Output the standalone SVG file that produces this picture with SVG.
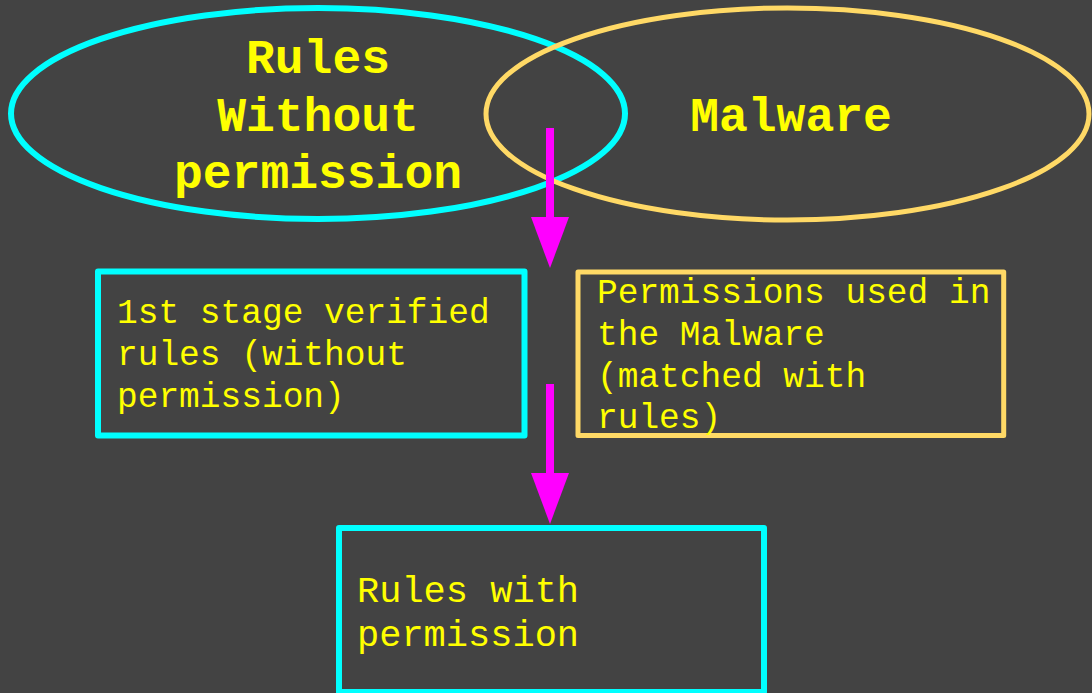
<svg xmlns="http://www.w3.org/2000/svg" width="1092" height="693" viewBox="0 0 1092 693">
  <style>
    .bold { font-family: "Liberation Mono", "Courier New", monospace; font-weight: bold; font-size: 48px; fill: #FFFF00; text-anchor: middle; }
    .body { font-family: "Liberation Mono", "Courier New", monospace; font-size: 34.5px; fill: #FFFF00; }
    .big { font-size: 37px; }
    .cyan { fill: none; stroke: #00FFFF; stroke-width: 6; stroke-linejoin: round; }
    .gold { fill: none; stroke: #FFD966; stroke-width: 5; stroke-linejoin: round; }
    .shaft { stroke: #FF00FF; stroke-width: 8; fill: none; }
    .head { fill: #FF00FF; }
  </style>
  <rect x="0" y="0" width="1092" height="693" fill="#434343"/>
  <g id="node-rules-without">
    <ellipse class="cyan" cx="318" cy="113.5" rx="307" ry="105.5" stroke-width="5"/>
    <text class="bold" x="318" y="73">Rules</text>
    <text class="bold" x="318" y="131">Without</text>
    <text class="bold" x="318" y="188">permission</text>
  </g>
  <g id="node-malware">
    <ellipse class="gold" cx="787.5" cy="114" rx="301.5" ry="106" stroke-width="4.5"/>
    <text class="bold" x="791" y="131">Malware</text>
  </g>
  <g id="node-first-stage">
    <rect class="cyan" x="98" y="271.5" width="426.5" height="164"/>
    <text class="body" x="117" y="323">1st stage verified</text>
    <text class="body" x="117" y="365">rules (without</text>
    <text class="body" x="117" y="407">permission)</text>
  </g>
  <g id="node-permissions">
    <rect class="gold" x="578" y="272" width="425.7" height="163.5" stroke-width="5.5"/>
    <text class="body" x="597" y="303">Permissions used in</text>
    <text class="body" x="597" y="345">the Malware</text>
    <text class="body" x="597" y="387">(matched with</text>
    <text class="body" x="597" y="428">rules)</text>
  </g>
  <g id="node-rules-with">
    <rect class="cyan" x="339" y="528" width="425" height="164"/>
    <text class="body big" x="357" y="602">Rules with</text>
    <text class="body big" x="357" y="646">permission</text>
  </g>
  <g id="connectors">
    <line class="shaft" x1="550" y1="128" x2="550" y2="219"/>
    <polygon class="head" points="531,217 569,217 550,268"/>
    <line class="shaft" x1="550" y1="384" x2="550" y2="475"/>
    <polygon class="head" points="531,473 569,473 550,524"/>
  </g>
</svg>
